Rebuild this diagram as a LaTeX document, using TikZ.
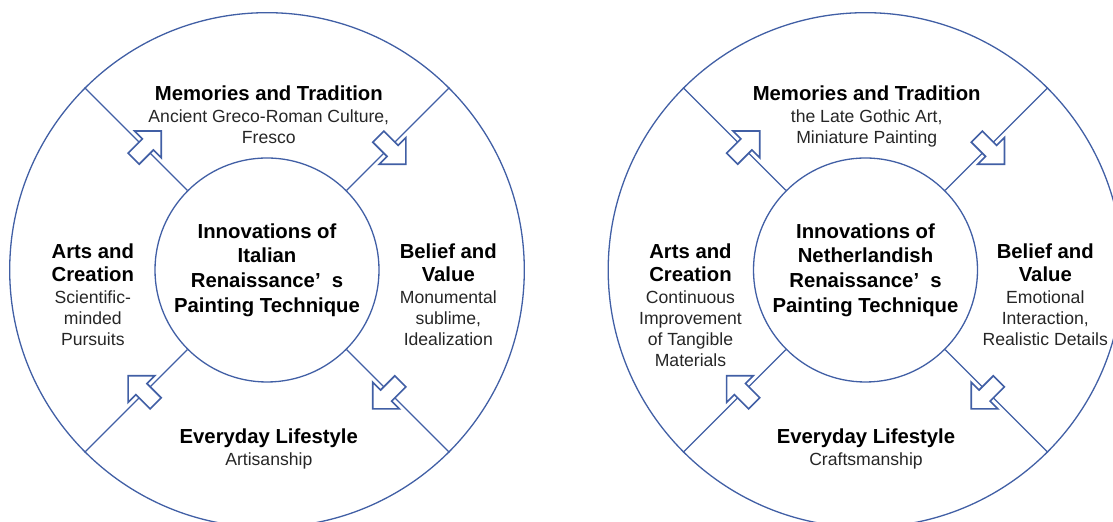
\documentclass[tikz,border=0pt]{standalone}
\usepackage{fontspec}
\setmainfont{Liberation Sans}
\usetikzlibrary{shapes.arrows}

\definecolor{ringblue}{RGB}{65,95,165}
\newcommand{\headln}[1]{{\color{black}\bfseries\fontsize{20.3bp}{21.3bp}\selectfont #1}}

\begin{document}
\begin{tikzpicture}[x=1bp,y=1bp,
  rim/.style={circle,draw=ringblue,line width=1.3bp,minimum size=514.6bp,inner sep=0pt},
  hub/.style={circle,draw=ringblue,line width=1.3bp,fill=white,minimum size=224bp,inner sep=0pt,
    align=center,font=\bfseries\fontsize{20.3bp}{24.7bp}\selectfont},
  spoke/.style={draw=ringblue,line width=1.3bp},
  field/.style={anchor=north,align=center,inner sep=0pt,text=black!85,
    font=\fontsize{17.6bp}{21.3bp}\selectfont},
  flow/.style={single arrow,draw=ringblue,fill=white,line width=1.7bp,minimum height=39bp,
    single arrow head extend=11bp,single arrow tip angle=90,inner xsep=0pt,inner ysep=7bp}]

  \useasboundingbox (0,0) rectangle (1113,522);

  % Italian
  \begin{scope}[shift={(267,252)}]
  \node[rim] (lrim) at (0,0) {};
  \node[hub] (lhub) at (0,0) {Innovations of\\Italian\\Renaissance’\hspace{0.55em}s\\Painting Technique};
  \draw[spoke] (lhub.45) -- (lrim.45) (lhub.135) -- (lrim.135)
    (lhub.225) -- (lrim.225) (lhub.315) -- (lrim.315);

  \node[flow,rotate=45] (lnw) at (135:173) {};
  \node[flow,rotate=-45] (lne) at (45:173) {};
  \node[flow,rotate=-135] (lse) at (-45:173) {};
  \node[flow,rotate=135] (lsw) at (-135:173) {};

  \node[field] (lmem) at (1.8,184.6) {\headln{Memories and Tradition}\\[0.7bp]Ancient Greco-Roman Culture,\\Fresco};
  \node[field] (lart) at (-174.2,26.3) {\headln{Arts and}\\[1.1bp]\headln{Creation}\\[0.7bp]Scientific-\\minded\\Pursuits};
  \node[field] (lbel) at (181.3,26.3) {\headln{Belief and}\\[1.1bp]\headln{Value}\\[0.7bp]Monumental\\sublime,\\Idealization};
  \node[field] (llife) at (1.8,-158.7) {\headln{Everyday Lifestyle}\\[0.7bp]Artisanship};
  \end{scope}

  % Netherlandish
  \begin{scope}[shift={(865.5,252)}]
  \node[rim] (rrim) at (0,0) {};
  \node[hub] (rhub) at (0,0) {Innovations of\\Netherlandish\\Renaissance’\hspace{0.55em}s\\Painting Technique};
  \draw[spoke] (rhub.45) -- (rrim.45) (rhub.135) -- (rrim.135)
    (rhub.225) -- (rrim.225) (rhub.315) -- (rrim.315);

  \node[flow,rotate=45] (rnw) at (135:173) {};
  \node[flow,rotate=-45] (rne) at (45:173) {};
  \node[flow,rotate=-135] (rse) at (-45:173) {};
  \node[flow,rotate=135] (rsw) at (-135:173) {};

  \node[field] (rmem) at (1.2,184.6) {\headln{Memories and Tradition}\\[0.7bp]the Late Gothic Art,\\Miniature Painting};
  \node[field] (rart) at (-175,26.3) {\headln{Arts and}\\[1.1bp]\headln{Creation}\\[0.7bp]Continuous\\Improvement\\of Tangible\\Materials};
  \node[field] (rbel) at (179.8,26.3) {\headln{Belief and}\\[1.1bp]\headln{Value}\\[0.7bp]Emotional\\Interaction,\\Realistic Details};
  \node[field] (rlife) at (0.5,-158.7) {\headln{Everyday Lifestyle}\\[0.7bp]Craftsmanship};
  \end{scope}

\end{tikzpicture}
\end{document}
